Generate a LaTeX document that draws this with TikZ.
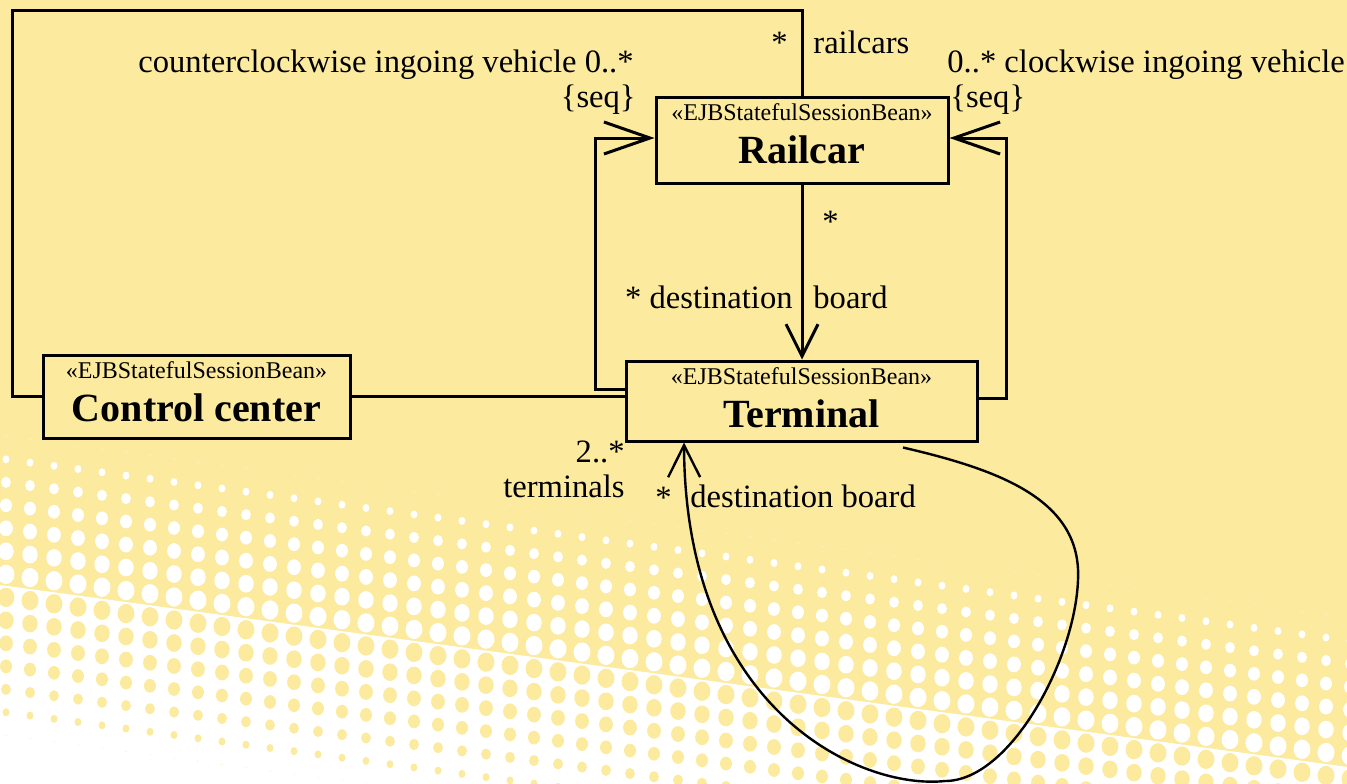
\documentclass[tikz,border=0pt]{standalone}
\usepackage{fontspec}
\setmainfont{Liberation Serif}
\usetikzlibrary{arrows.meta}
\definecolor{bgy}{RGB}{252,234,158}
\newcommand\mystereo{{\fontsize{12}{13}\selectfont «EJBStatefulSessionBean»}}
\newcommand\mytitle[2]{{\fontsize{20}{22}\selectfont\bfseries #1\rule[-#2]{0pt}{#2}}}
\begin{document}
\begin{tikzpicture}[x=0.5pt,y=-0.5pt,
  cls/.style={draw, line width=1.5pt, fill=bgy, align=center, inner sep=0pt,
              font=\fontsize{12}{21.5}\selectfont},
  wire/.style={line width=1.5pt, line join=miter},
  loopwire/.style={line width=1.2pt},
  lbl/.style={font=\fontsize{16.3}{18}\selectfont, inner sep=0pt},
  sidearrow/.style={-{Straight Barb[length=23pt,width=16pt]}},
  vertarrow/.style={-{Straight Barb[length=16pt,width=16pt]}}]
\useasboundingbox (0,0) rectangle (1347,783);
% background with halftone (grid rows parallel to the gradient)
\begin{scope}
\clip (0,0) rectangle (1347,783);
\fill[bgy] (0,0) rectangle (1347,783);
\fill[white] (0,585) -- (1360,768.6) -- (1360,800) -- (0,800) -- cycle;
\foreach \k in {-7,...,9}{
  \pgfmathsetmacro\dd{(573.5+23*\k-585)/150}
  \ifdim\dd pt<0pt
    \pgfmathsetmacro\rr{4.785*sqrt(max(0,1+\dd))}
    \def\dotcol{white}
  \else
    \pgfmathsetmacro\rr{4.785*sqrt(max(0,1-\dd))}
    \def\dotcol{bgy}
  \fi
  \foreach \i in {0,...,56}{
    \pgfmathsetmacro\px{6+24*\i}
    \pgfmathsetmacro\py{573.5+23*\k+0.135*\px}
    \fill[\dotcol] (\px,\py) ellipse[x radius=0.92*\rr pt, y radius=1.05*\rr pt];
  }
}
\end{scope}
% classes
\node[cls, minimum width=146pt, minimum height=43pt] (R) at (802,140)
  {\mystereo\\\mytitle{Railcar}{6.7pt}};
\node[cls, minimum width=175.5pt, minimum height=40pt] (T) at (801.5,401)
  {\mystereo\\\mytitle{Terminal}{3.7pt}};
\node[cls, minimum width=153.5pt, minimum height=41.5pt] (C) at (196.5,396.5)
  {\mystereo\\\mytitle{Control center}{4.7pt}};
% connectors
\coordinate (tl) at (12,10);
\draw[wire] (C.west) -| (tl) -| (R.north);
\draw[wire] (C.east) -- (T.west |- C.east);
\draw[wire,sidearrow] ([yshift=6pt]T.west) -| ([xshift=-29.5pt,yshift=1pt]R.west) -- ([yshift=1pt]R.west);
\draw[wire,sidearrow] ([yshift=1.5pt]T.east) -| ([xshift=28.5pt,yshift=1pt]R.east) -- ([yshift=1pt]R.east);
\draw[wire,vertarrow] (R.south) -- (R.south |- T.north);
\draw[loopwire,vertarrow] ([xshift=50.75pt,yshift=-2.5pt]T.south)
  .. controls (1000,470) and (1082,500) .. (1078,580)
  .. controls (1075,660) and (1010,781) .. (945,781)
  .. controls (860,790) and (685,710) .. ([xshift=-58.75pt]T.south);
% labels
\node[lbl, anchor=base east] (l1) at (634,72) {counterclockwise ingoing vehicle 0..*};
\node[lbl, anchor=base east] (l2) at (636,107) {\{seq\}};
\node[lbl, anchor=base east] (l3) at (788,53) {*};
\node[lbl, anchor=base west] (l4) at (813,53) {railcars};
\node[lbl, anchor=base west] (l5) at (947,72) {0..* clockwise ingoing vehicle};
\node[lbl, anchor=base west] (l6) at (950,107) {\{seq\}};
\node[lbl, anchor=base west] (l7) at (822,232) {*};
\node[lbl, anchor=base east] (l8) at (793,308) {* destination};
\node[lbl, anchor=base west] (l9) at (813,308) {board};
\node[lbl, anchor=base east] (l10) at (625,462) {2..*};
\node[lbl, anchor=base east] (l11) at (625,497) {terminals};
\node[lbl, anchor=base east] (l12) at (672,508) {*};
\node[lbl, anchor=base west] (l13) at (690,507) {destination board};
\end{tikzpicture}
\end{document}
